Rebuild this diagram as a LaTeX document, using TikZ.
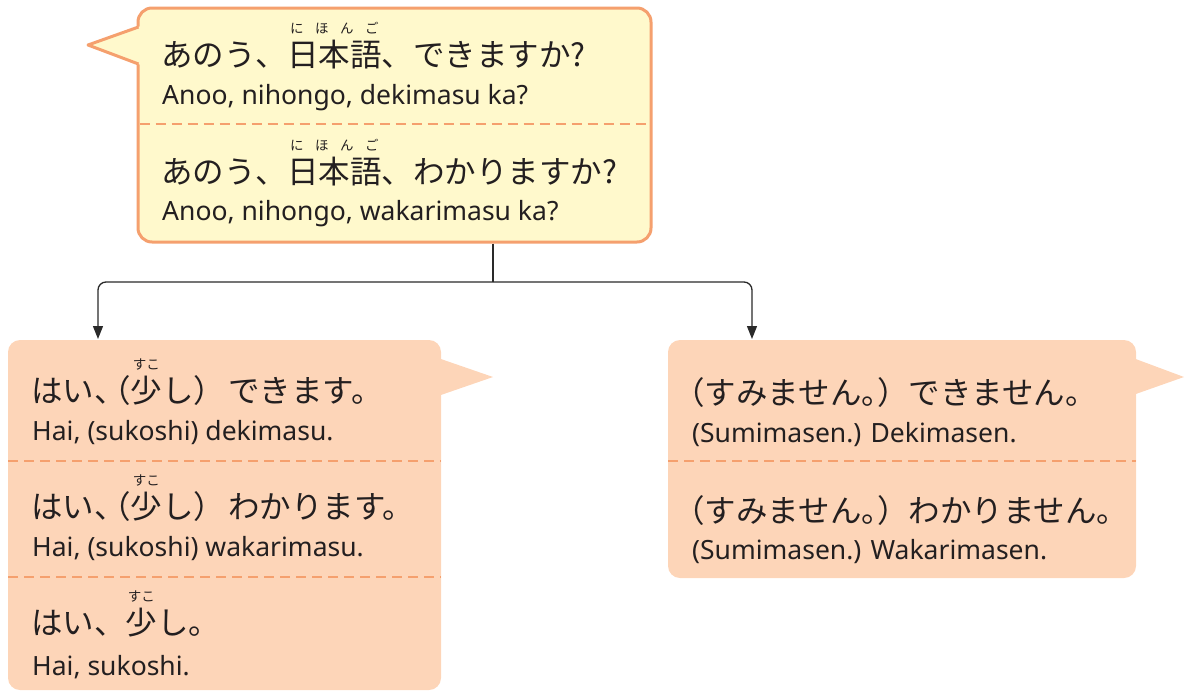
\documentclass[tikz,border=0pt]{standalone}
\usepackage{fontspec}
\setmainfont{Noto Sans CJK JP}
\newfontfamily\latinfont{Noto Sans}
\newfontfamily\hpfont[RawFeature=+halt]{Noto Sans CJK JP}
\usetikzlibrary{arrows.meta}
\definecolor{ink}{HTML}{231F20}
\definecolor{qfill}{HTML}{FFF9CC}
\definecolor{qline}{HTML}{F5A06E}
\definecolor{peach}{HTML}{FDD5B8}
\definecolor{conn}{HTML}{2A2A2A}
\newcommand\myruby[2]{\leavevmode\setbox0\hbox{#1}\rlap{\raisebox{33pt}[0pt][0pt]{\makebox[\wd0][c]{\fontsize{13.5}{13.5}\selectfont #2}}}\box0}
\newcommand\hp[1]{{\hpfont #1}}
\tikzset{
  qbox/.style={draw=qline, line width=3pt, fill=qfill, rounded corners=14pt, inner sep=0pt},
  abox/.style={fill=peach, rounded corners=12pt, inner sep=0pt},
  jp/.style={anchor=west, inner sep=0pt, text=ink, font=\fontsize{31.5}{31.5}\selectfont},
  rm/.style={anchor=west, inner sep=0pt, text=ink, font=\latinfont\fontsize{26.5}{26.5}\selectfont},
  divider/.style={draw=qline, line width=2pt, dash pattern=on 10pt off 6pt},
  link/.style={draw=conn, line width=1.3pt},
  arrowlink/.style={link, rounded corners=8pt, -{Triangle[length=13pt,width=10pt]}},
}
\begin{document}
\begin{tikzpicture}[x=1pt,y=-1pt]
\useasboundingbox (0,0) rectangle (1187,691);
% top speech bubble
\node[qbox, minimum width=513pt, minimum height=234pt] (q) at (394.5,125) {};
\fill[qfill] (141,26) -- (88,45) -- (141,65) -- cycle;
\draw[qline, line width=3pt, line join=round] (138.5,27) -- (88,45) -- (138.5,64);
\draw[divider] (139.5,124) -- (649.5,124);
\node[jp] (q1) at (161,55) {あのう、\myruby{日本語}{\makebox[\wd0][s]{\hspace{3pt}に\hfill ほ\hfill ん\hfill ご\hspace{3pt}}}、できますか?};
\node[rm] (q1r) at (162,98) {Anoo, nihongo, dekimasu ka?};
\node[jp] (q2) at (161,172) {あのう、\myruby{日本語}{\makebox[\wd0][s]{\hspace{3pt}に\hfill ほ\hfill ん\hfill ご\hspace{3pt}}}、わかりますか?};
\node[rm] (q2r) at (162,214) {Anoo, nihongo, wakarimasu ka?};
% left bubble
\node[abox, minimum width=433pt, minimum height=350pt] (l) at (224.5,515) {};
\fill[peach] (438,358) -- (493,377) -- (438,396) -- cycle;
\draw[divider] (8,461) -- (441,461);
\draw[divider] (8,577) -- (441,577);
\node[jp] (l1) at (31,391) {はい\hp{、}\hspace{5pt}\hp{（}\myruby{少}{すこ}し）\hspace{3pt}できます。};
\node[rm] (l1r) at (32,433) {Hai, (sukoshi) dekimasu.};
\node[jp] (l2) at (31,507) {はい\hp{、}\hspace{5pt}\hp{（}\myruby{少}{すこ}し）\hspace{3pt}わかります。};
\node[rm] (l2r) at (32,549) {Hai, (sukoshi) wakarimasu.};
\node[jp] (l3) at (31,623) {はい、\myruby{少}{すこ}し。};
\node[rm] (l3r) at (32,667) {Hai, sukoshi.};
% right bubble
\node[abox, minimum width=468pt, minimum height=238pt] (r) at (902,459) {};
\fill[peach] (1133,358) -- (1184,377) -- (1133,395) -- cycle;
\draw[divider] (668,461) -- (1136,461);
\node[jp] (r1) at (689,393) {\hp{（}すみません\hp{。}）できません。};
\node[rm] (r1r) at (692,435) {(Sumimasen.) Dekimasen.};
\node[jp] (r2) at (689,511) {\hp{（}すみません\hp{。}）わかりません。};
\node[rm] (r2r) at (692,552) {(Sumimasen.) Wakarimasen.};
% connectors
\coordinate (j) at (493,282);
\coordinate (lt) at (98,339);
\coordinate (rt) at (752,339);
\draw[link] (q.south -| j) -- (j);
\draw[arrowlink] (j) -| (lt);
\draw[arrowlink] (j) -| (rt);
\end{tikzpicture}
\end{document}
